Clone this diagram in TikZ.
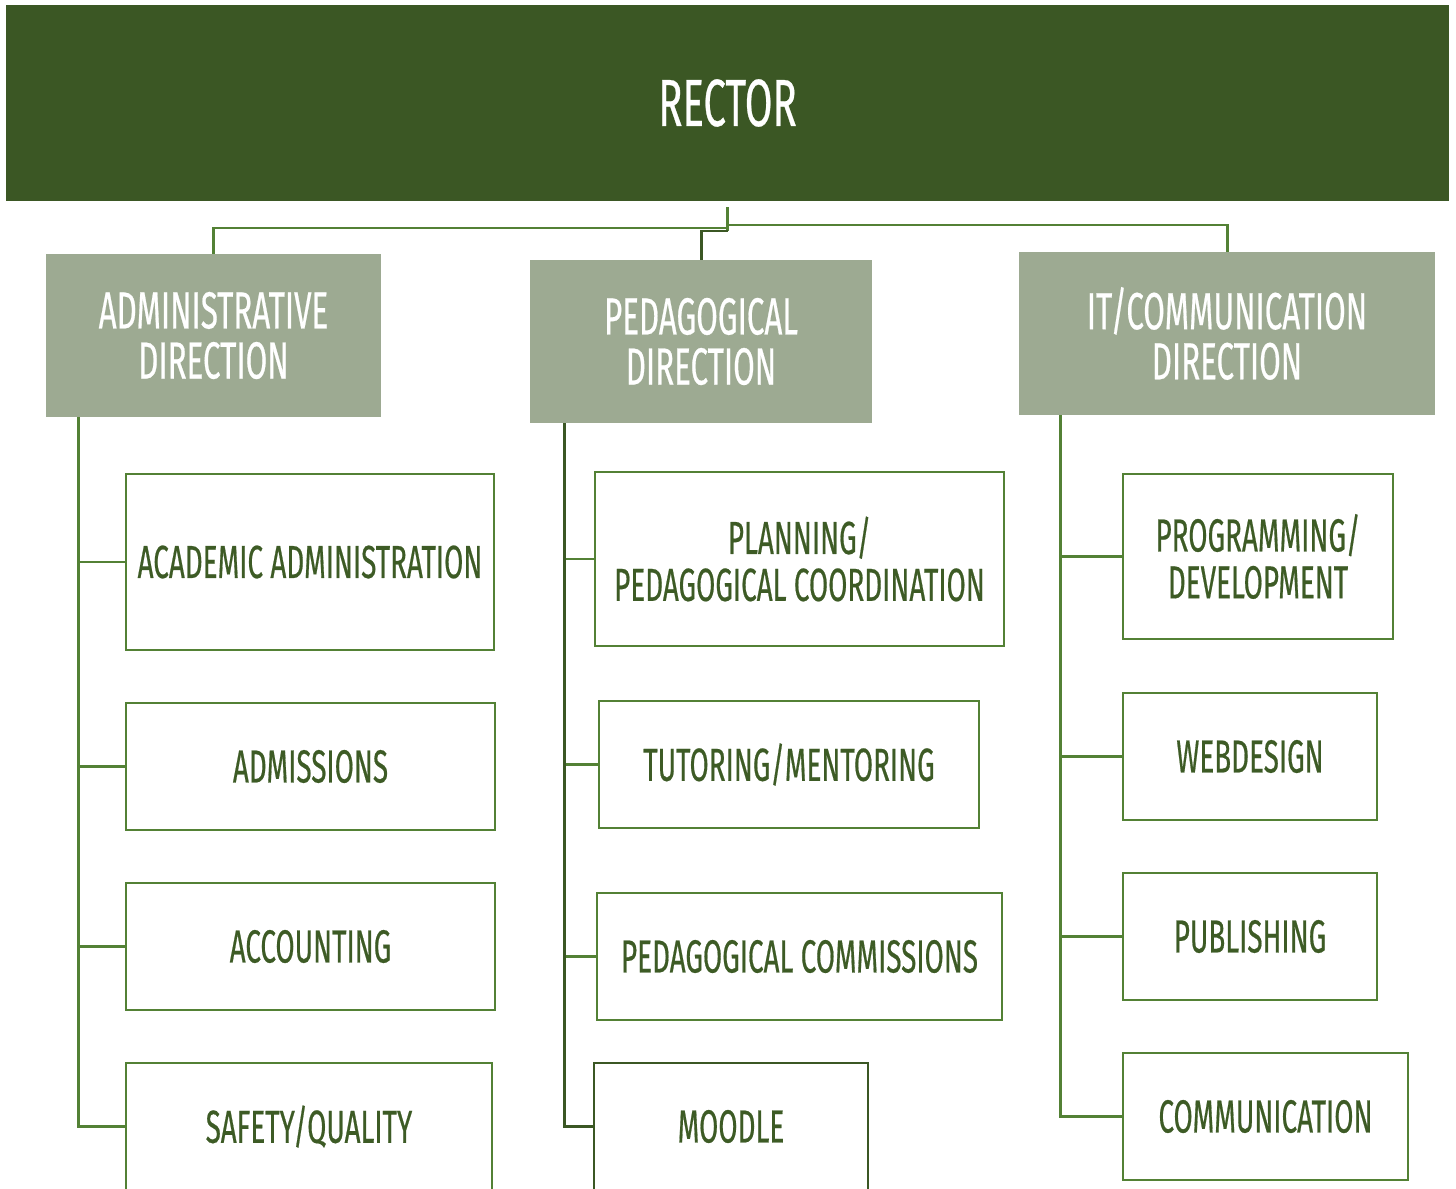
\documentclass[tikz,border=0pt]{standalone}
\usepackage{fontspec}
\setmainfont[FakeStretch=0.60,FakeBold=0.4]{Fira Sans}
\usetikzlibrary{positioning}

\definecolor{rectorgreen}{HTML}{3B5724}
\definecolor{linegreen}{HTML}{538135}
\definecolor{dirgray}{HTML}{9DAA92}
\definecolor{textgreen}{HTML}{3D5B25}

\tikzset{
    topbox/.style={fill=rectorgreen,text=white,inner sep=0pt,font=\fontsize{38}{40}\selectfont},
    dirbox/.style={fill=dirgray,text=white,inner sep=0pt,align=center,minimum height=3.26cm,font=\fontsize{29.7}{28.5}\selectfont},
    unitbox/.style={draw=linegreen,line width=1.1pt,fill=white,text=textgreen,inner sep=0pt,align=center,minimum height=2.54cm,font=\fontsize{26.4}{26.7}\selectfont},
    link/.style={draw=linegreen,line width=1.7pt},
    darklink/.style={draw=rectorgreen,line width=1.7pt}
}

\begin{document}
\begin{tikzpicture}[x=0.02cm,y=-0.02cm]

    \useasboundingbox (0,0) rectangle (1456,1189);

    % rector on top
    \node[topbox,minimum width=28.86cm,minimum height=3.92cm] (rector) at (727.5,103) {RECTOR};

    % the three directions
    \node[dirbox,minimum width=6.70cm] (admin) at (213.5,335.5) {ADMINISTRATIVE\\DIRECTION};
    \node[dirbox,minimum width=6.84cm] (ped) at (701,341.5) {PEDAGOGICAL\\DIRECTION};
    \node[dirbox,minimum width=8.32cm] (it) at (1227,333.5) {IT/COMMUNICATION\\DIRECTION};

    % links from the rector
    \coordinate (fork) at (727.5,228);
    \draw[link] ([yshift=-0.12cm]rector.south) -- ++(0,24);
    \draw[link] (fork) -| (admin.north);
    \draw[link] (fork) ++(0,-3) -| (it.north);
    \draw[darklink] (fork) ++(0,3) -| (ped.north);

    % administrative units
    \node[unitbox,minimum width=7.36cm,minimum height=3.52cm] (acad) at (310,562) {ACADEMIC ADMINISTRATION};
    \node[unitbox,minimum width=7.38cm] (admis) at (310.5,766.5) {ADMISSIONS};
    \node[unitbox,minimum width=7.38cm] (acct) at (310.5,946.5) {ACCOUNTING};
    \node[unitbox,minimum width=7.32cm] (safety) at (309,1126.5) {SAFETY/QUALITY};

    % pedagogical units
    \node[unitbox,minimum width=8.18cm,minimum height=3.48cm] (plan) at (799.5,559) {PLANNING/\\PEDAGOGICAL COORDINATION};
    \node[unitbox,minimum width=7.60cm] (tutor) at (789,764.5) {TUTORING/MENTORING};
    \node[unitbox,minimum width=8.10cm] (pcomm) at (799.5,956.5) {PEDAGOGICAL COMMISSIONS};
    \node[unitbox,draw=rectorgreen,line width=1.6pt,minimum width=5.48cm] (moodle) at (731,1126.5) {MOODLE};

    % it/communication units
    \node[unitbox,minimum width=5.40cm,minimum height=3.30cm] (prog) at (1258,556.5) {PROGRAMMING/\\DEVELOPMENT};
    \node[unitbox,minimum width=5.08cm] (web) at (1250,756.5) {WEBDESIGN};
    \node[unitbox,minimum width=5.08cm] (pub) at (1250,936.5) {PUBLISHING};
    \node[unitbox,minimum width=5.70cm] (commu) at (1265.5,1116.5) {COMMUNICATION};

    % trunks and branches
    \foreach \unit in {acad,admis,acct,safety}
        \draw[link] ([xshift=0.66cm]admin.south west) |- (\unit.west);
    \foreach \unit in {plan,tutor,pcomm}
        \draw[link] ([xshift=0.70cm]ped.south west) |- (\unit.west);
    \draw[darklink] ([xshift=0.70cm]ped.south west) |- (moodle.west);
    \foreach \unit in {prog,web,pub,commu}
        \draw[link] ([xshift=0.84cm]it.south west) |- (\unit.west);

\end{tikzpicture}
\end{document}
